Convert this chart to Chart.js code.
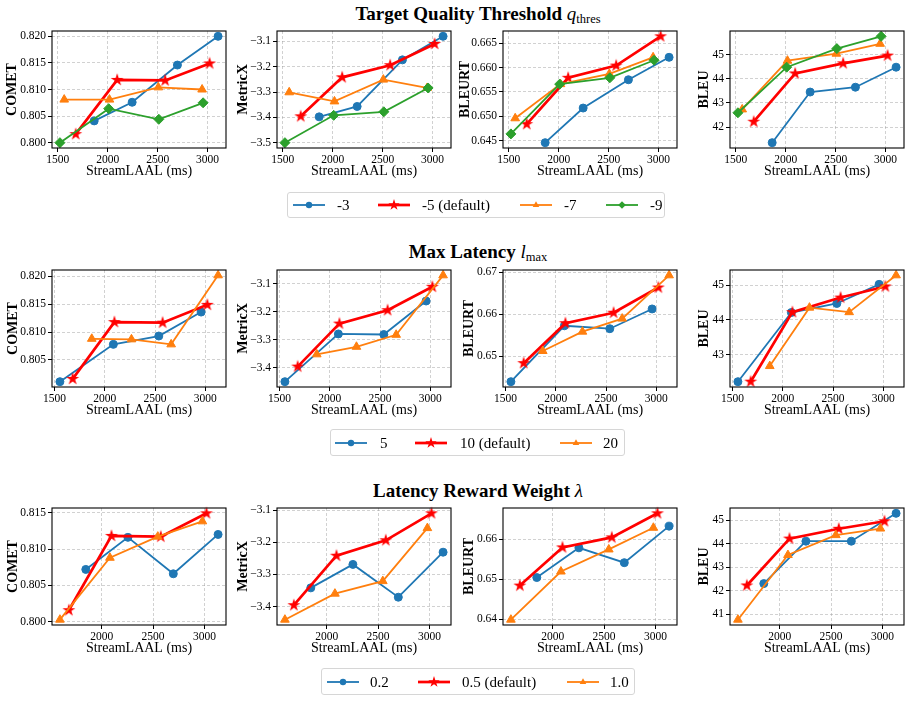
<!DOCTYPE html>
<html>
<head>
<meta charset="utf-8">
<script src="https://cdn.jsdelivr.net/npm/chart.js@4.4.0/dist/chart.umd.min.js"></script>
<style>
body { margin: 0; background: #fff; }
#fig { position: relative; width: 912px; height: 702px; overflow: hidden; font-family: 'Liberation Serif', 'Times New Roman', serif; color: #000; }
#fig canvas { position: absolute; }
.title { position: absolute; left: 478px; transform: translateX(-50%); white-space: nowrap; font-size: 19px; line-height: 1; }
.title i { font-weight: normal; }
.title sub { font-size: 12.5px; font-weight: normal; vertical-align: -3px; line-height: 1; }
.legend { position: absolute; border: 1px solid #d6d6d6; border-radius: 3px; background: #fff; box-sizing: border-box; }
.legend svg { position: absolute; top: 50%; margin-top: -8px; }
.legend span { position: absolute; top: 50%; transform: translateY(-50%); font-size: 15px; line-height: 1; white-space: nowrap; }
</style>
</head>
<body>
<div id="fig">
  <div class="title" style="top:4px"><b>Target Quality Threshold</b> <i>q</i><sub>thres</sub></div>
  <div class="title" style="top:242px"><b>Max Latency</b> <i>l</i><sub>max</sub></div>
  <div class="title" style="top:481px"><b>Latency Reward Weight</b> <i>λ</i></div>
</div>
<script>
const xLabel = 'StreamLAAL (ms)';
const metricNames = ['COMET', 'MetricX', 'BLEURT', 'BLEU'];

// the default setting (red) is the same run in all three studies
const defaultX = [1680, 2095, 2575, 3020];
const defaultComet = [0.8016, 0.8118, 0.8117, 0.8149];
const defaultMetricx = [-3.396, -3.242, -3.194, -3.110];
const defaultBleurt = [0.6484, 0.6579, 0.6604, 0.6664];
const defaultBleu = [42.22, 44.22, 44.64, 44.96];

// target quality threshold q_thres
const qthresNames = ['-3', '-5 (default)', '-7', '-9'];
const qthresX = [[1865, 2245, 2698, 3105], defaultX, [1565, 2018, 2507, 2945], [1522, 2010, 2512, 2955]];
const qthresComet = [[0.8041, 0.8076, 0.8146, 0.8200], defaultComet, [0.8081, 0.8081, 0.8104, 0.8100], [0.8000, 0.8064, 0.8044, 0.8075]];
const qthresMetricx = [[-3.398, -3.357, -3.173, -3.080], defaultMetricx, [-3.301, -3.337, -3.251, -3.284], [-3.500, -3.392, -3.378, -3.284]];
const qthresBleurt = [[0.6446, 0.6517, 0.6575, 0.6621], defaultBleurt, [0.6496, 0.6566, 0.6587, 0.6621], [0.6464, 0.6566, 0.6579, 0.6615]];
const qthresBleu = [[41.35, 43.45, 43.65, 44.48], defaultBleu, [42.73, 44.75, 45.04, 45.45], [42.59, 44.48, 45.25, 45.76]];

// max latency l_max
const lmaxNames = ['5', '10 (default)', '20'];
const lmaxX = [[1553, 2085, 2537, 2958], defaultX, [1870, 2265, 2660, 3127]];
const lmaxComet = [[0.8011, 0.8078, 0.8093, 0.8136], defaultComet, [0.8088, 0.8087, 0.8078, 0.8202]];
const lmaxMetricx = [[-3.450, -3.279, -3.281, -3.161], defaultMetricx, [-3.352, -3.325, -3.282, -3.069]];
const lmaxBleurt = [[0.6440, 0.6573, 0.6566, 0.6613], defaultBleurt, [0.6513, 0.6559, 0.6590, 0.6693]];
const lmaxBleu = [[42.22, 44.21, 44.47, 45.02], defaultBleu, [42.67, 44.35, 44.22, 45.28]];

// latency reward weight lambda
const lambdaNames = ['0.2', '0.5 (default)', '1.0'];
const lambdaX = [[1845, 2255, 2697, 3133], defaultX, [1593, 2080, 2546, 2980]];
const lambdaComet = [[0.8072, 0.8116, 0.8066, 0.8120], defaultComet, [0.8003, 0.8088, 0.8117, 0.8138]];
const lambdaMetricx = [[-3.342, -3.269, -3.371, -3.231], defaultMetricx, [-3.441, -3.360, -3.321, -3.156]];
const lambdaBleurt = [[0.6504, 0.6578, 0.6541, 0.6632], defaultBleurt, [0.6399, 0.6519, 0.6574, 0.6628]];
const lambdaBleu = [[42.30, 44.11, 44.11, 45.30], defaultBleu, [40.76, 43.52, 44.37, 44.65]];

// y tick step and decimals per metric (row 1 BLEURT uses a finer step)
const yStepsRow1 = [0.005, 0.1, 0.005, 1];
const yStepsOther = [0.005, 0.1, 0.01, 1];
const yDigitsRow1 = [3, 1, 3, 0];
const yDigitsOther = [3, 1, 2, 0];

// ---- layout ----
const FONT = "'Liberation Serif', 'Times New Roman', serif";
const W = 60, PT = 10, PR = 22, H = 36;
const colLeft = [52, 277, 503, 730];
const rowTop = [31, 270, 508];
const plotW = 174, plotH = 117;
const yTitleOffset = [[40, 34, 38, 26], [39, 34, 34, 26], [39, 34, 34, 26]];

function starCanvas(color, R) {
    const s = Math.ceil(R * 2 + 2);
    const c = document.createElement('canvas');
    c.width = c.height = s;
    const g = c.getContext('2d');
    g.fillStyle = color;
    g.beginPath();
    for (let k = 0; k < 10; k++) {
        const r = k % 2 ? R * 0.382 : R;
        const a = -Math.PI / 2 + k * Math.PI / 5;
        g.lineTo(s / 2 + r * Math.cos(a), s / 2 + r * Math.sin(a));
    }
    g.closePath();
    g.fill();
    return c;
}

const styles = {
    blue: { color: '#1f77b4', point: 'circle', radius: 4, width: 1.8, order: 3 },
    red: { color: '#ff0000', point: starCanvas('#ff0000', 6.8), radius: 6, width: 2.7, order: 2 },
    orange: { color: '#ff7f0e', point: 'triangle', radius: 5, width: 1.8, order: 1 },
    green: { color: '#2ca02c', point: 'rectRot', radius: 5, width: 1.8, order: 0 }
};

function padRange(arrs) {
    const v = arrs.flat();
    const lo = Math.min(...v), hi = Math.max(...v);
    const m = (hi - lo) * 0.05;
    return [lo - m, hi + m];
}

function stepTicks(step) {
    return scale => {
        const out = [];
        const start = Math.ceil(scale.min / step - 1e-6);
        const end = Math.floor(scale.max / step + 1e-6);
        for (let k = start; k <= end; k++) out.push({ value: +(k * step).toFixed(6) });
        scale.ticks = out;
    };
}

const framePlugin = {
    id: 'frame',
    afterDraw(chart) {
        const { ctx, chartArea: a } = chart;
        ctx.save();
        ctx.strokeStyle = '#000';
        ctx.lineWidth = 1.1;
        ctx.strokeRect(a.left, a.top, a.right - a.left, a.bottom - a.top);
        ctx.restore();
    }
};

const fig = document.getElementById('fig');

function drawPanel(row, col, xs, ys, keys) {
    const canvas = document.createElement('canvas');
    canvas.width = W + plotW + PR;
    canvas.height = PT + plotH + H;
    canvas.style.left = (colLeft[col] - W) + 'px';
    canvas.style.top = (rowTop[row] - PT) + 'px';
    fig.appendChild(canvas);

    const [xMin, xMax] = padRange(xs);
    const [yMin, yMax] = padRange(ys);
    const yStep = (row === 0 ? yStepsRow1 : yStepsOther)[col];
    const yDigits = (row === 0 ? yDigitsRow1 : yDigitsOther)[col];

    const datasets = keys.map((key, i) => {
        const s = styles[key];
        return {
            data: xs[i].map((x, j) => ({ x: x, y: ys[i][j] })),
            borderColor: s.color,
            backgroundColor: s.color,
            borderWidth: s.width,
            pointStyle: s.point,
            pointRadius: s.radius,
            pointHoverRadius: s.radius,
            pointBorderWidth: 1,
            tension: 0,
            clip: false,
            order: s.order
        };
    });

    const grid = {
        color: 'rgba(150,150,150,0.55)',
        lineWidth: 0.8,
        tickLength: 4,
        tickColor: '#000',
        tickWidth: 1
    };

    new Chart(canvas, {
        type: 'line',
        data: { datasets },
        options: {
            responsive: false,
            animation: false,
            events: [],
            layout: { padding: { top: PT, right: PR, left: 0, bottom: 0 } },
            plugins: { legend: { display: false }, tooltip: { enabled: false } },
            scales: {
                x: {
                    type: 'linear',
                    min: xMin,
                    max: xMax,
                    afterBuildTicks: stepTicks(500),
                    afterFit: s => { s.height = H; },
                    ticks: { autoSkip: false, maxRotation: 0, padding: 1, color: '#000', font: { family: FONT, size: 11.5 }, callback: v => String(v) },
                    title: { display: true, text: xLabel, color: '#000', font: { family: FONT, size: 14 }, padding: { top: 0, bottom: 4 } },
                    grid: grid,
                    border: { display: false, dash: [3, 2] }
                },
                y: {
                    type: 'linear',
                    min: yMin,
                    max: yMax,
                    afterBuildTicks: stepTicks(yStep),
                    afterFit: s => { s.width = W; },
                    ticks: {
                        autoSkip: false, padding: 2, color: '#000', font: { family: FONT, size: 11.5 },
                        callback: v => (v < 0 ? '\u2212' : '') + Math.abs(v).toFixed(yDigits)
                    },
                    title: {
                        display: true, text: metricNames[col], color: '#000',
                        font: { family: FONT, size: 14, weight: 'bold' },
                        padding: { top: W - yTitleOffset[row][col] - 8.4, bottom: 0 }
                    },
                    grid: grid,
                    border: { display: false, dash: [3, 2] }
                }
            }
        },
        plugins: [framePlugin]
    });
}

function markerSvg(key, cx, cy) {
    const c = styles[key].color;
    if (key === 'blue') return `<circle cx="${cx}" cy="${cy}" r="3.2" fill="${c}"/>`;
    let pts = [];
    if (key === 'red') {
        for (let k = 0; k < 10; k++) {
            const r = k % 2 ? 2.3 : 6;
            const a = -Math.PI / 2 + k * Math.PI / 5;
            pts.push((cx + r * Math.cos(a)).toFixed(2) + ',' + (cy + r * Math.sin(a)).toFixed(2));
        }
    } else if (key === 'orange') {
        const r = 3.8;
        pts = [[cx, cy - r], [cx + 0.866 * r, cy + r / 2], [cx - 0.866 * r, cy + r / 2]].map(p => p.join(','));
    } else {
        const r = 3.8;
        pts = [[cx, cy - r], [cx + r, cy], [cx, cy + r], [cx - r, cy]].map(p => p.join(','));
    }
    return `<polygon points="${pts.join(' ')}" fill="${c}"/>`;
}

function drawLegend(names, keys, box, lineLeft, textLeft) {
    const div = document.createElement('div');
    div.className = 'legend';
    div.style.left = box[0] + 'px';
    div.style.top = box[1] + 'px';
    div.style.width = box[2] + 'px';
    div.style.height = box[3] + 'px';
    names.forEach((name, i) => {
        const s = styles[keys[i]];
        const svg = `<svg width="34" height="16" style="left:${lineLeft[i] - box[0] - 2}px">` +
            `<line x1="1" y1="8" x2="33" y2="8" stroke="${s.color}" stroke-width="${s.width}"/>` +
            markerSvg(keys[i], 17, 8) + '</svg>';
        div.insertAdjacentHTML('beforeend', svg);
        const span = document.createElement('span');
        span.textContent = name;
        span.style.left = (textLeft[i] - box[0] - 1) + 'px';
        div.appendChild(span);
    });
    fig.appendChild(div);
}

const keys4 = ['blue', 'red', 'orange', 'green'];
const keys3 = ['blue', 'red', 'orange'];

[qthresComet, qthresMetricx, qthresBleurt, qthresBleu].forEach((ys, c) => drawPanel(0, c, qthresX, ys, keys4));
[lmaxComet, lmaxMetricx, lmaxBleurt, lmaxBleu].forEach((ys, c) => drawPanel(1, c, lmaxX, ys, keys3));
[lambdaComet, lambdaMetricx, lambdaBleurt, lambdaBleu].forEach((ys, c) => drawPanel(2, c, lambdaX, ys, keys3));

drawLegend(qthresNames, keys4, [287, 192, 378, 26], [293, 378, 520, 606], [337, 422, 564, 650]);
drawLegend(lmaxNames, keys3, [330, 429, 295, 27], [335, 415, 560], [380, 460, 603]);
drawLegend(lambdaNames, keys3, [321, 668, 314, 27], [327, 418, 567], [370, 462, 610]);
</script>
</body>
</html>
